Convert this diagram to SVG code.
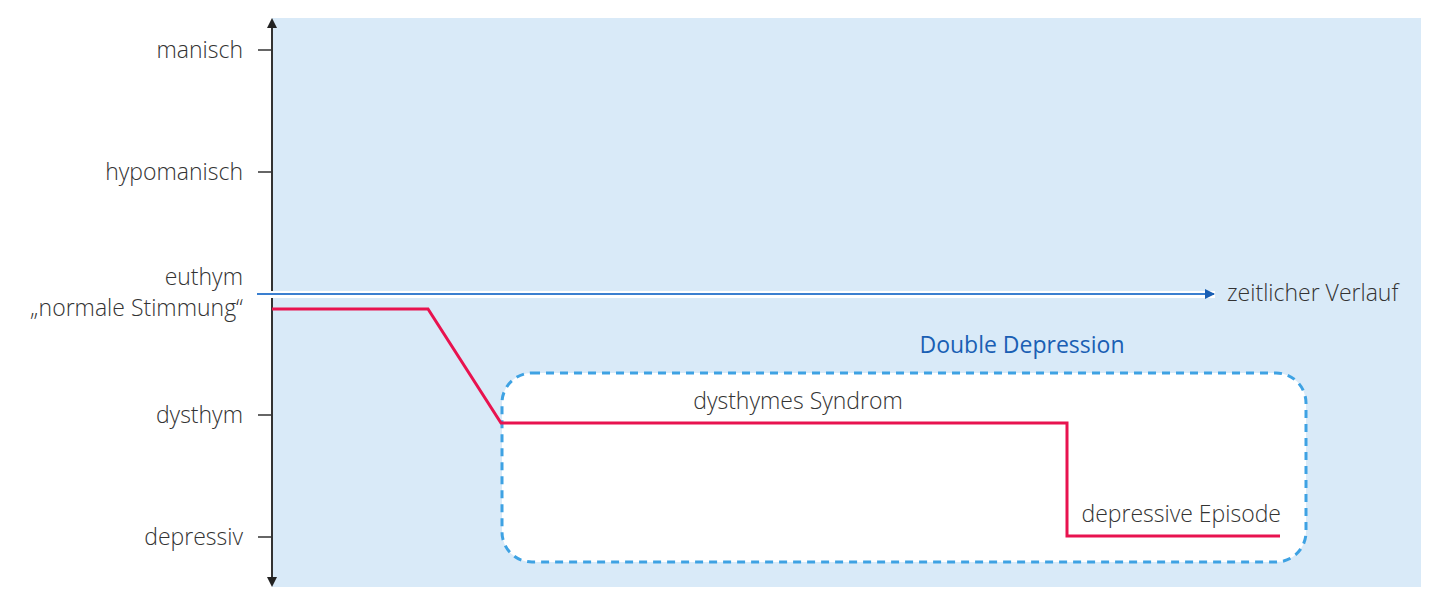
<svg xmlns="http://www.w3.org/2000/svg" width="1440" height="606" viewBox="0 0 1440 606">
<style>
.lbl{font-family:"Open Sans","Liberation Sans",sans-serif;font-weight:300;font-size:23px;fill:#333333}
.end{text-anchor:end}
.tick{stroke:#333333;stroke-width:1.5}
</style>
<defs>
<marker id="ah" markerWidth="10" markerHeight="10" refX="9" refY="5" orient="auto" markerUnits="userSpaceOnUse">
<path d="M0,0 L10,5 L0,10 Z" fill="#1a5fb4"/>
</marker>
</defs>
<rect width="1440" height="606" fill="#ffffff"/>
<rect id="background" x="272" y="18" width="1149" height="569" fill="#d9eaf8"/>
<g id="box">
<rect x="502" y="373" width="804" height="189" rx="30" ry="30" fill="#ffffff" stroke="#3ea2e3" stroke-width="3" stroke-dasharray="8,6"/>
</g>
<g id="axes">
<line x1="272" y1="26" x2="272" y2="580" stroke="#333333" stroke-width="2"/>
<path d="M267,28 L272,18 L277,28 Z" fill="#222222"/>
<path d="M267,577 L272,587 L277,577 Z" fill="#222222"/>
<line class="tick" x1="258" y1="50" x2="272" y2="50"/>
<line class="tick" x1="258" y1="172" x2="272" y2="172"/>
<line class="tick" x1="258" y1="415" x2="272" y2="415"/>
<line class="tick" x1="258" y1="537" x2="272" y2="537"/>
<rect x="257" y="291" width="958" height="7" fill="#ffffff"/>
<line x1="257" y1="294" x2="1214" y2="294" stroke="#3a7fd0" stroke-width="2" marker-end="url(#ah)"/>
</g>
<g id="connectors">
<polyline points="272,309 428,309 501,423 1067,423 1067,536 1280,536" fill="none" stroke="#e8134f" stroke-width="3"/>
</g>
<g id="labels">
<text class="lbl end" x="243" y="58">manisch</text>
<text class="lbl end" x="243" y="180">hypomanisch</text>
<text class="lbl end" x="243" y="285">euthym</text>
<text class="lbl end" x="243" y="316">„normale Stimmung“</text>
<text class="lbl end" x="243" y="423">dysthym</text>
<text class="lbl end" x="243" y="545">depressiv</text>
<text class="lbl" x="1227" y="301">zeitlicher Verlauf</text>
<text class="lbl" x="1022" y="353" text-anchor="middle" style="fill:#1a5fb4;font-weight:400">Double Depression</text>
<text class="lbl" x="798" y="409" text-anchor="middle">dysthymes Syndrom</text>
<text class="lbl end" x="1281" y="522">depressive Episode</text>
</g>
</svg>
